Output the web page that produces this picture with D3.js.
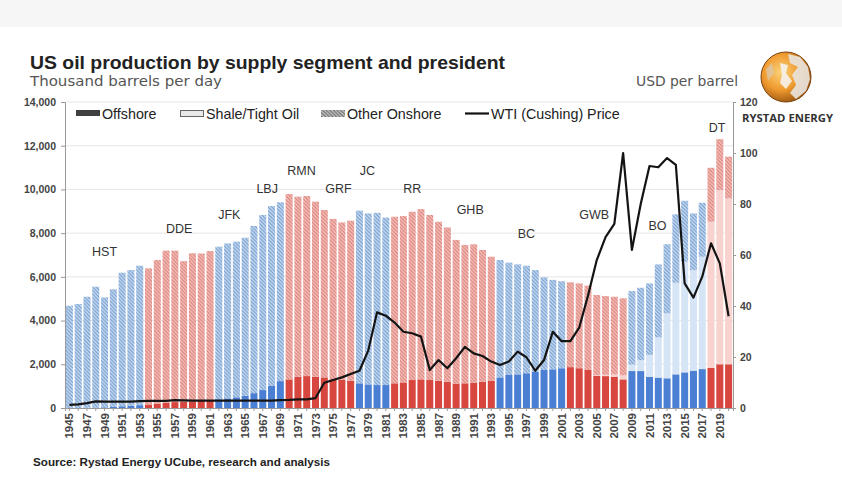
<!DOCTYPE html>
<html><head><meta charset="utf-8">
<script src="https://cdn.jsdelivr.net/npm/d3@7"></script>
<style>
body{margin:0;background:#fff;}
svg{display:block;font-family:"Liberation Sans",Arial,sans-serif;}
</style>
</head><body><svg id="c" width="842" height="500"></svg>
<script>
// ---------------- DATA ----------------
const years = [1945,1946,1947,1948,1949,1950,1951,1952,1953,1954,1955,1956,1957,1958,1959,1960,1961,1962,1963,1964,1965,1966,1967,1968,1969,1970,1971,1972,1973,1974,1975,1976,1977,1978,1979,1980,1981,1982,1983,1984,1985,1986,1987,1988,1989,1990,1991,1992,1993,1994,1995,1996,1997,1998,1999,2000,2001,2002,2003,2004,2005,2006,2007,2008,2009,2010,2011,2012,2013,2014,2015,2016,2017,2018,2019,2020];
// total production, thousand b/d
const totalProd = [4680,4760,5090,5550,5060,5430,6190,6310,6510,6390,6770,7200,7200,6720,7080,7070,7180,7380,7530,7610,7790,8330,8830,9240,9410,9790,9670,9700,9440,9060,8650,8490,8570,9030,8900,8930,8710,8750,8780,8980,9100,8830,8520,8260,7690,7460,7490,7230,6920,6770,6650,6570,6510,6310,5980,5860,5800,5750,5700,5600,5170,5120,5090,5020,5350,5500,5700,6570,7490,8860,9480,8900,9390,10990,12300,11500];
const offshore = [0,0,10,20,30,50,80,100,130,160,200,240,270,290,310,330,360,400,440,490,560,680,820,1010,1230,1310,1430,1460,1430,1400,1310,1280,1250,1130,1080,1050,1050,1130,1170,1280,1310,1280,1250,1200,1100,1130,1160,1200,1250,1400,1510,1540,1590,1660,1740,1770,1820,1870,1820,1740,1480,1460,1430,1310,1690,1690,1430,1390,1360,1540,1630,1710,1780,1840,2000,2000];
const shale = [0,0,0,0,0,0,0,0,0,0,0,0,0,0,0,0,0,0,0,0,0,0,0,0,0,0,0,0,0,0,0,0,0,0,0,0,0,0,0,0,0,0,0,0,0,0,0,0,0,0,0,0,0,0,0,0,0,0,0,0,30,60,100,180,300,500,1000,1840,2970,4190,5060,4600,5140,6680,7970,7590];
const wti = [1.2,1.4,1.9,2.6,2.5,2.5,2.5,2.5,2.7,2.8,2.8,2.8,3.1,3.0,2.9,2.9,2.9,2.9,2.9,2.9,2.9,2.9,2.9,2.9,3.1,3.2,3.4,3.4,3.9,9.9,11.0,12.0,13.3,14.6,22.5,37.5,36.2,33.5,29.9,29.3,28.0,14.9,18.8,15.6,19.5,24.0,21.4,20.4,18.2,16.9,18.2,22.1,19.9,14.6,18.8,29.9,26.2,26.2,31.5,44.0,58.0,67.0,72.2,100,62.0,80.0,94.9,94.4,98.0,95.3,48.9,43.3,51.5,64.6,56.7,36.0];
// party of the administration per span of years
const partySpans = [["D",1945,1953],["R",1954,1961],["D",1962,1969],["R",1970,1977],["D",1978,1981],["R",1982,1993],["D",1994,2001],["R",2002,2008],["D",2009,2017],["R",2018,2020]];
const presLabels = ["HST","DDE","JFK","LBJ","RMN","GRF","JC","RR","GHB","BC","GWB","BO","DT"];
const presLabelYear = [1949,1957.5,1963.2,1967.5,1971.4,1975.6,1978.9,1984,1990.6,1997,2004.7,2011.9,2018.7];
const presLabelLevel = [7140,8190,8870,10020,10840,10020,10840,10020,9060,7960,8830,8330,12850];
const leftTicks = [0,2000,4000,6000,8000,10000,12000,14000];
const rightTicks = [0,20,40,60,80,100,120];
const seriesNames = ["Offshore","Shale/Tight Oil","Other Onshore","WTI (Cushing) Price"];

// ---------------- STYLE ----------------
const col = {
  R:{off:"#d8473f", shale:"#f8d2cf", base:"#f6beb8", stripe:"#d57d76"},
  D:{off:"#4a7fd4", shale:"#d6e5f6", base:"#c6dbf2", stripe:"#6b94c8"}
};
const partyOf = yr => partySpans.find(s => yr>=s[1] && yr<=s[2])[0];

const svg = d3.select("#c");
const defs = svg.append("defs");
function hatch(id, base, stripe){
  const p = defs.append("pattern").attr("id",id).attr("patternUnits","userSpaceOnUse")
    .attr("width",3.6).attr("height",3.6);
  p.append("rect").attr("width",3.6).attr("height",3.6).attr("fill",base);
  p.append("path").attr("d","M-1,-1L4.6,4.6M-1,2.6L1,4.6M2.6,-1L4.6,1")
    .attr("stroke",stripe).attr("stroke-width",1.0);
}
hatch("hR", col.R.base, col.R.stripe);
hatch("hD", col.D.base, col.D.stripe);
hatch("hG", "#c4c4c4", "#5e5e5e");

// background strip at top
svg.append("rect").attr("x",0).attr("y",0).attr("width",842).attr("height",27).attr("fill","#f6f6f6");

// ---------------- SCALES ----------------
const x = d3.scaleBand().domain(years).range([65,733]).paddingInner(0.2).paddingOuter(0.1);
const bw = x.bandwidth();
const xl = d3.scaleLinear().domain([years[0], years[years.length-1]])
  .range([x(years[0])+bw/2, x(years[years.length-1])+bw/2]);
const y = d3.scaleLinear().domain([0,14000]).range([408,102]);
const yR = d3.scaleLinear().domain([0,120]).range([408,102]);

// gridlines
svg.append("g").selectAll("line").data(leftTicks.slice(1)).join("line")
  .attr("x1",65).attr("x2",733).attr("y1",d=>y(d)).attr("y2",d=>y(d))
  .attr("stroke","#e6e6e6").attr("stroke-width",1);

// ---------------- BARS ----------------
const rows = years.map((yr,i)=>({yr, off:offshore[i], sh:shale[i], tot:totalProd[i], p:wti[i], party:partyOf(yr)}));
const gb = svg.append("g");
rows.forEach(d=>{
  const c = col[d.party];
  gb.append("rect").attr("x",x(d.yr)).attr("width",bw)
    .attr("y",y(d.off)).attr("height",y(0)-y(d.off)).attr("fill",c.off);
  if(d.sh>0) gb.append("rect").attr("x",x(d.yr)).attr("width",bw)
    .attr("y",y(d.off+d.sh)).attr("height",y(d.off)-y(d.off+d.sh)).attr("fill",c.shale);
  gb.append("rect").attr("x",x(d.yr)).attr("width",bw)
    .attr("y",y(d.tot)).attr("height",y(d.off+d.sh)-y(d.tot)).attr("fill",`url(#h${d.party})`);
});

// ---------------- LINE ----------------
svg.append("path").datum(rows)
  .attr("d", d3.line().x(d=>xl(d.yr)).y(d=>yR(d.p)))
  .attr("fill","none").attr("stroke","#141414").attr("stroke-width",2.2).attr("stroke-linejoin","round");

// ---------------- AXES ----------------
const axL = svg.append("g").attr("transform","translate(65,0)")
  .call(d3.axisLeft(y).tickValues(leftTicks).tickFormat(d3.format(",")).tickSize(4).tickPadding(5));
const axR = svg.append("g").attr("transform","translate(733,0)")
  .call(d3.axisRight(yR).tickValues(rightTicks).tickSize(3).tickPadding(4));
const axB = svg.append("g").attr("transform","translate(0,408)")
  .call(d3.axisBottom(x).tickValues(years).tickFormat(d=> d%2===1 ? d : "").tickSize(3));
axB.selectAll("text").attr("transform","rotate(-90)").attr("x",-5).attr("y",0).attr("dy","0.35em")
  .style("text-anchor","end");
[axL,axR,axB].forEach(a=>{
  a.selectAll(".domain").attr("stroke","#999");
  a.selectAll(".tick line").attr("stroke","#999");
  a.selectAll("text").attr("fill","#444").style("font-family","'Liberation Sans',Arial,sans-serif")
    .style("font-size","10.5px").style("font-weight","bold");
});
axB.selectAll("text").style("font-size","11.5px");

// ---------------- PRESIDENT LABELS ----------------
svg.append("g").selectAll("text").data(presLabels).join("text")
  .attr("x",(d,i)=>xl(presLabelYear[i])).attr("y",(d,i)=>y(presLabelLevel[i]))
  .attr("dy","0.35em").attr("text-anchor","middle")
  .attr("font-size",12.5).attr("fill","#333").text(d=>d);

// ---------------- LEGEND ----------------
const lg = svg.append("g").attr("font-size",14.3).attr("fill","#222");
const lx = [76,180,321,465];
lg.append("rect").attr("x",lx[0]).attr("y",110).attr("width",24).attr("height",6).attr("fill","#404040");
lg.append("rect").attr("x",lx[1]+0.5).attr("y",110.5).attr("width",23).attr("height",6).attr("fill","#e9e9e9").attr("stroke","#666");
lg.append("rect").attr("x",lx[2]).attr("y",110).attr("width",24).attr("height",7).attr("fill","url(#hG)");
lg.append("line").attr("x1",lx[3]).attr("x2",lx[3]+24).attr("y1",113.5).attr("y2",113.5).attr("stroke","#111").attr("stroke-width",2.2);
lg.selectAll("text").data(seriesNames).join("text")
  .attr("x",(d,i)=>lx[i]+26).attr("y",118.5).text(d=>d);

// ---------------- TITLES ----------------
svg.append("text").attr("x",30).attr("y",69).attr("font-size",19).attr("font-weight","bold")
  .attr("fill","#222").attr("textLength",475).attr("lengthAdjust","spacingAndGlyphs")
  .text("US oil production by supply segment and president");
svg.append("text").attr("x",30).attr("y",86).attr("font-size",14).attr("fill","#555")
  .style("font-family","'DejaVu Sans',Verdana,sans-serif").attr("textLength",192).attr("lengthAdjust","spacingAndGlyphs")
  .text("Thousand barrels per day");
svg.append("text").attr("x",636).attr("y",86).attr("font-size",14).attr("fill","#555")
  .style("font-family","'DejaVu Sans',Verdana,sans-serif").attr("textLength",102).attr("lengthAdjust","spacingAndGlyphs")
  .text("USD per barrel");
svg.append("text").attr("x",33).attr("y",466).attr("font-size",11.5).attr("font-weight","bold")
  .attr("fill","#222").attr("textLength",297).attr("lengthAdjust","spacingAndGlyphs")
  .text("Source: Rystad Energy UCube, research and analysis");

// ---------------- LOGO ----------------
const rg = defs.append("radialGradient").attr("id","glob").attr("cx","40%").attr("cy","40%").attr("r","65%");
rg.append("stop").attr("offset","0%").attr("stop-color","#fbd27a");
rg.append("stop").attr("offset","55%").attr("stop-color","#ef9a2f");
rg.append("stop").attr("offset","100%").attr("stop-color","#9a5410");
const logo = svg.append("g").attr("transform","translate(786,77)");
logo.append("circle").attr("r",25).attr("fill","url(#glob)");
logo.append("path").attr("d","M2,-23 L14,-20 L22,-10 L24,2 L20,14 L10,22 L4,16 L10,8 L6,-2 L12,-10 L4,-14 Z")
  .attr("fill","#e8e4df").attr("opacity",0.9);
logo.append("path").attr("d","M-6,-14 L2,-12 L0,-4 L6,4 L0,12 L-6,6 L-4,-2 Z").attr("fill","#f6f2ec").attr("opacity",0.9);
logo.append("path").attr("d","M-20,-8 L-14,-14 L-12,-4 L-18,4 Z").attr("fill","#d9c9b5").attr("opacity",0.7);
logo.append("circle").attr("r",25).attr("fill","none").attr("stroke","#7a4310").attr("stroke-width",1);
svg.append("text").attr("x",742).attr("y",122).attr("font-size",10).attr("font-weight","bold")
  .attr("fill","#333").style("font-family","'Open Sans',sans-serif").attr("textLength",91).attr("lengthAdjust","spacingAndGlyphs")
  .text("RYSTAD ENERGY");
</script></body></html>
